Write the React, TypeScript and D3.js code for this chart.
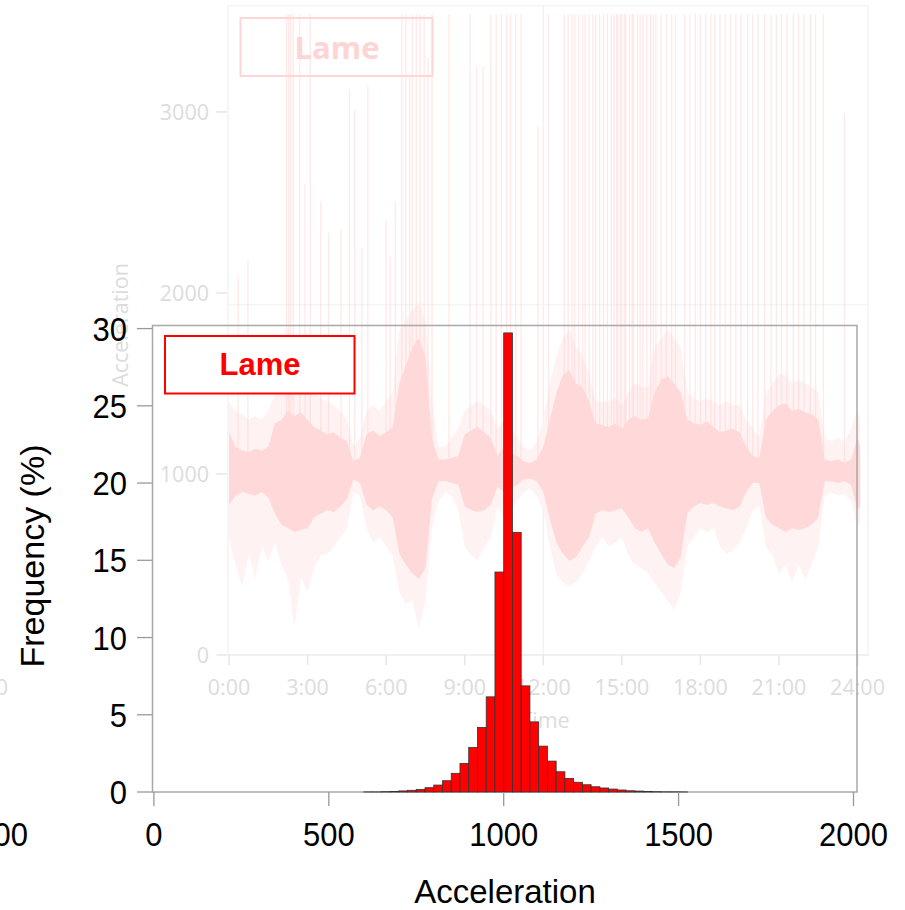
import React from "react";
import * as d3 from "d3";

// ---------- Histogram data (Acceleration, bin width 25) ----------
const binStarts = [600, 625, 650, 675, 700, 725, 750, 775, 800, 825, 850, 875, 900, 925, 950, 975, 1000, 1025, 1050, 1075, 1100, 1125, 1150, 1175, 1200, 1225, 1250, 1275, 1300, 1325, 1350, 1375, 1400, 1425, 1450, 1475, 1500];
const binFreq = [0.005, 0.005, 0.02, 0.04, 0.07, 0.11, 0.17, 0.28, 0.45, 0.73, 1.21, 1.85, 2.89, 4.18, 6.16, 14.24, 29.72, 16.81, 6.87, 4.54, 2.97, 2.0, 1.31, 0.88, 0.63, 0.47, 0.34, 0.26, 0.19, 0.13, 0.08, 0.06, 0.04, 0.02, 0.01, 0.01, 0.005];
const binWidth = 25;
const histXTicks = [0, 500, 1000, 1500, 2000];
const histYTicks = [0, 5, 10, 15, 20, 25, 30];

// ---------- Background time series (faded) ----------
const tsHours = [0, 0.25, 0.5, 0.75, 1, 1.25, 1.5, 1.75, 2, 2.25, 2.5, 2.75, 3, 3.25, 3.5, 3.75, 4, 4.25, 4.5, 4.75, 5, 5.25, 5.5, 5.75, 6, 6.25, 6.5, 6.75, 7, 7.25, 7.5, 7.75, 8, 8.25, 8.5, 8.75, 9, 9.25, 9.5, 9.75, 10, 10.25, 10.5, 10.75, 11, 11.25, 11.5, 11.75, 12, 12.25, 12.5, 12.75, 13, 13.25, 13.5, 13.75, 14, 14.25, 14.5, 14.75, 15, 15.25, 15.5, 15.75, 16, 16.25, 16.5, 16.75, 17, 17.25, 17.5, 17.75, 18, 18.25, 18.5, 18.75, 19, 19.25, 19.5, 19.75, 20, 20.25, 20.5, 20.75, 21, 21.25, 21.5, 21.75, 22, 22.25, 22.5, 22.75, 23, 23.25, 23.5, 23.75, 24, 24.1];
const coreUpper = [1230, 1150, 1130, 1120, 1140, 1130, 1150, 1280, 1300, 1350, 1320, 1340, 1300, 1260, 1240, 1220, 1230, 1200, 1180, 1070, 1090, 1220, 1240, 1210, 1230, 1260, 1500, 1600, 1700, 1750, 1650, 1200, 1080, 1080, 1090, 1100, 1220, 1240, 1260, 1230, 1200, 1100, 1150, 1120, 1100, 1070, 1060, 1080, 1150, 1300, 1450, 1550, 1570, 1500, 1480, 1400, 1280, 1270, 1260, 1280, 1250, 1300, 1320, 1300, 1310, 1450, 1520, 1540, 1500, 1450, 1300, 1280, 1270, 1290, 1260, 1230, 1240, 1250, 1230, 1150, 1100, 1090, 1300, 1350, 1380, 1390, 1350, 1360, 1340, 1330, 1300, 1080, 1070, 1080, 1060, 1080, 1200, 1150];
const coreLower = [830, 880, 900, 890, 880, 900, 870, 780, 720, 700, 680, 690, 700, 760, 780, 800, 790, 820, 860, 970, 950, 830, 800, 820, 800, 760, 560, 500, 450, 420, 480, 860, 960, 960, 950, 940, 820, 800, 790, 800, 830, 930, 900, 920, 940, 970, 975, 960, 900, 750, 620, 560, 520, 540, 600, 650, 780, 800, 790, 800, 810, 760, 700, 680, 700, 620, 560, 500, 480, 540, 780, 820, 840, 830, 840, 820, 810, 800, 820, 900, 950, 950, 760, 720, 700, 680, 700, 690, 700, 720, 760, 960, 960, 950, 960, 940, 800, 820];
const fringeUpper = [1400, 1350, 1330, 1300, 1320, 1300, 1350, 1450, 1500, 1600, 1550, 1520, 1500, 1450, 1420, 1400, 1380, 1350, 1300, 1150, 1200, 1350, 1380, 1350, 1400, 1450, 1800, 1850, 1900, 1950, 1850, 1400, 1150, 1150, 1200, 1250, 1350, 1380, 1400, 1380, 1350, 1250, 1300, 1250, 1200, 1150, 1130, 1180, 1300, 1500, 1650, 1750, 1800, 1700, 1650, 1550, 1400, 1400, 1400, 1420, 1380, 1450, 1500, 1480, 1480, 1700, 1750, 1800, 1750, 1700, 1450, 1420, 1400, 1420, 1400, 1380, 1400, 1380, 1380, 1300, 1250, 1200, 1450, 1500, 1550, 1550, 1500, 1520, 1500, 1480, 1450, 1200, 1180, 1200, 1180, 1250, 1350, 1300];
const fringeLower = [640, 500, 380, 560, 420, 600, 520, 620, 500, 420, 150, 430, 350, 480, 550, 560, 600, 650, 700, 900, 880, 700, 620, 650, 600, 550, 350, 280, 300, 150, 300, 700, 850, 900, 880, 800, 600, 550, 520, 600, 650, 820, 750, 800, 850, 900, 920, 880, 800, 600, 450, 400, 380, 400, 450, 520, 600, 650, 600, 620, 650, 550, 500, 480, 450, 400, 350, 300, 250, 350, 600, 650, 700, 680, 700, 600, 560, 580, 620, 700, 800, 820, 600, 550, 450, 500, 400, 500, 420, 500, 600, 880, 900, 880, 890, 850, 700, 750];
const spikeHours = [0.35, 0.72, 2.2, 2.28, 2.35, 2.45, 2.7, 2.9, 3.1, 3.5, 3.8, 4.28, 4.6, 4.8, 5.07, 5.3, 6.0, 6.15, 6.35, 6.6, 6.75, 6.9, 7.0, 7.15, 7.3, 7.45, 7.6, 7.75, 8.4, 9.2, 9.45, 9.7, 10.0, 10.2, 10.4, 10.6, 10.75, 10.95, 11.15, 11.8, 12.2, 12.8, 12.95, 13.1, 13.2, 13.35, 13.5, 13.6, 13.75, 13.9, 14.0, 14.15, 14.3, 14.45, 14.6, 14.7, 14.8, 14.85, 14.95, 15.0, 15.1, 15.15, 15.3, 15.4, 15.45, 15.6, 15.7, 15.8, 15.95, 16.1, 16.2, 16.3, 16.5, 16.7, 16.9, 17.05, 17.4, 17.6, 17.8, 18.0, 18.2, 18.4, 18.55, 18.75, 18.95, 19.15, 19.35, 19.55, 19.8, 20.0, 20.2, 20.45, 20.7, 20.9, 21.1, 21.3, 21.55, 21.75, 21.95, 22.2, 22.4, 22.7, 23.5];
const spikeTops = [2090, 2180, 3540, 3540, 3540, 3540, 3540, 2600, 3540, 2510, 2330, 2350, 3120, 3010, 2250, 3140, 2400, 2200, 2500, 3540, 3540, 3200, 3540, 3540, 3540, 3540, 3300, 3540, 3540, 3540, 3250, 3250, 3540, 3540, 3540, 3540, 3540, 3540, 3540, 2920, 3540, 3540, 3540, 3540, 3540, 3540, 3540, 3540, 3540, 3540, 3540, 3540, 3540, 3540, 3540, 3540, 3540, 3540, 3540, 3540, 3540, 3540, 3540, 3540, 3540, 3540, 3540, 3540, 3540, 3540, 3540, 3540, 3540, 3540, 3540, 3540, 3540, 3540, 3540, 3540, 3540, 3540, 3540, 3540, 3540, 3540, 3540, 3540, 3540, 3540, 3540, 3540, 3540, 3540, 3540, 3540, 3540, 3540, 3540, 3540, 3540, 3540, 2990];
const tsYTicks = [0, 1000, 2000, 3000];
const tsXTicks = [0, 3, 6, 9, 12, 15, 18, 21, 24];
const tsXTickLabels = ["0:00", "3:00", "6:00", "9:00", "12:00", "15:00", "18:00", "21:00", "24:00"];
const tsGridHour = [12];
const tsGridValue = [1935];

const legendLabel = "Lame";

export default function App() {
  const W = 905, H = 910;

  // background series scales
  const xT = d3.scaleLinear().domain([-0.04, 24.4]).range([228, 868]);
  const yT = d3.scaleLinear().domain([0, 3587]).range([655, 5.7]);

  // histogram scales
  const xH = d3.scaleLinear().domain([-4, 2010]).range([152.5, 857]);
  const yH = d3.scaleLinear().domain([0, 30.2]).range([792, 325.5]);

  const idx = d3.range(tsHours.length);
  const fringeArea = d3.area<number>()
    .x((i) => xT(tsHours[i]))
    .y0((i) => yT(fringeLower[i]))
    .y1((i) => yT(fringeUpper[i]))
    .curve(d3.curveLinear);
  const coreArea = d3.area<number>()
    .x((i) => xT(tsHours[i]))
    .y0((i) => yT(coreLower[i]))
    .y1((i) => yT(coreUpper[i]))
    .curve(d3.curveLinear);

  const faint = "#dcdcdc";
  const faintFont = "'Open Sans', 'DejaVu Sans', sans-serif";
  const font = "'Liberation Sans', Arial, sans-serif";

  return (
    <svg width={W} height={H} style={{ position: "absolute", left: 0, top: 0, background: "#fff" }}>
      {/* ===== faded background chart ===== */}
      <g>
        <rect x={228} y={5.7} width={640} height={649.3} fill="none" stroke="#f3f3f3" strokeWidth={1.5} />
        {tsGridHour.map((h) => (
          <line key={"gh" + h} x1={xT(h)} x2={xT(h)} y1={5.7} y2={655} stroke="#f2f2f2" strokeWidth={1.5} />
        ))}
        {tsGridValue.map((v) => (
          <line key={"gv" + v} x1={228} x2={868} y1={yT(v)} y2={yT(v)} stroke="#f5f5f5" strokeWidth={1.5} />
        ))}
        <path d={fringeArea(idx) || ""} fill="rgb(255,242,242)" />
        {spikeHours.map((h, i) => (
          <line key={"sp" + i} x1={xT(h)} x2={xT(h)} y1={yT(1050)} y2={yT(spikeTops[i])}
            stroke="rgb(255,205,205)" strokeOpacity={0.45} strokeWidth={1.3} />
        ))}
        <path d={coreArea(idx) || ""} fill="rgb(255,217,217)" />
        <line x1={228} x2={868} y1={655} y2={655} stroke="#eeeeee" strokeWidth={1.5} />
        {tsYTicks.map((v) => (
          <g key={"ty" + v}>
            <line x1={216.5} x2={227} y1={yT(v)} y2={yT(v)} stroke="#e6e6e6" strokeWidth={1.5} />
            <text x={209} y={yT(v) + 8} textAnchor="end" fontSize={21.5} fill={faint} fontFamily={faintFont}>{v}</text>
          </g>
        ))}
        {tsXTicks.map((h, i) => (
          <g key={"tx" + h}>
            <line x1={xT(h)} x2={xT(h)} y1={655} y2={665} stroke="#e6e6e6" strokeWidth={1.5} />
            <text x={xT(h)} y={695} textAnchor="middle" fontSize={21.5} fill={faint} fontFamily={faintFont}>{tsXTickLabels[i]}</text>
          </g>
        ))}
        <text x={545} y={728} textAnchor="middle" fontSize={21.5} fill={faint} fontFamily={faintFont}>Time</text>
        <text transform="translate(128,325) rotate(-90)" textAnchor="middle" fontSize={21.5} fill={faint} fontFamily={faintFont}>Acceleration</text>
        <rect x={240.5} y={18} width={192} height={58} fill="none" stroke="rgb(255,214,214)" strokeWidth={2} />
        <text x={337} y={59} textAnchor="middle" fontSize={31} fontWeight={700} fill="rgb(255,212,212)" fontFamily={faintFont}>{legendLabel}</text>
        {/* neighbouring panel fragment (cut at the edge, as in the reference) */}
        <text x={8} y={695} textAnchor="end" fontSize={21.5} fill={faint} fontFamily={faintFont}>24:00</text>
      </g>

      {/* ===== histogram ===== */}
      <g>
        <rect x={152.5} y={325.5} width={704.5} height={466.5} fill="none" stroke="#a8a8a8" strokeWidth={1.5} />
        {binStarts.map((b, i) => (
          <rect key={"bar" + b} x={xH(b)} y={yH(binFreq[i])} width={xH(b + binWidth) - xH(b)}
            height={Math.max(0, yH(0) - yH(binFreq[i]))} fill="#ff0000" stroke="#333" strokeWidth={0.8} />
        ))}
        {histYTicks.map((v) => (
          <g key={"hy" + v}>
            <line x1={137} x2={152.5} y1={yH(v)} y2={yH(v)} stroke="#999" strokeWidth={1.3} />
            <text transform={`translate(127,${yH(v) + 12}) scale(1,1.1)`} textAnchor="end" fontSize={31} fill="#000" fontFamily={font}>{v}</text>
          </g>
        ))}
        {histXTicks.map((v) => (
          <g key={"hx" + v}>
            <line x1={xH(v)} x2={xH(v)} y1={792} y2={806} stroke="#999" strokeWidth={1.3} />
            <text transform={`translate(${xH(v)},846) scale(1,1.1)`} textAnchor="middle" fontSize={31} fill="#000" fontFamily={font}>{v}</text>
          </g>
        ))}
        <text x={505} y={903} textAnchor="middle" fontSize={33} fill="#000" fontFamily={font}>Acceleration</text>
        <text transform="translate(44,556) rotate(-90)" textAnchor="middle" fontSize={34} fill="#000" fontFamily={font}>Frequency (%)</text>
        <rect x={165} y={336} width={189.5} height={57.5} fill="#fff" stroke="#ff0000" strokeWidth={2} />
        <text x={260} y={375} textAnchor="middle" fontSize={31} fontWeight={700} fill="#ff0000" fontFamily={font}>{legendLabel}</text>
        {/* neighbouring panel fragment (cut at the edge, as in the reference) */}
        <text transform="translate(28,846) scale(1,1.1)" textAnchor="end" fontSize={31} fill="#000" fontFamily={font}>2000</text>
      </g>
    </svg>
  );
}
